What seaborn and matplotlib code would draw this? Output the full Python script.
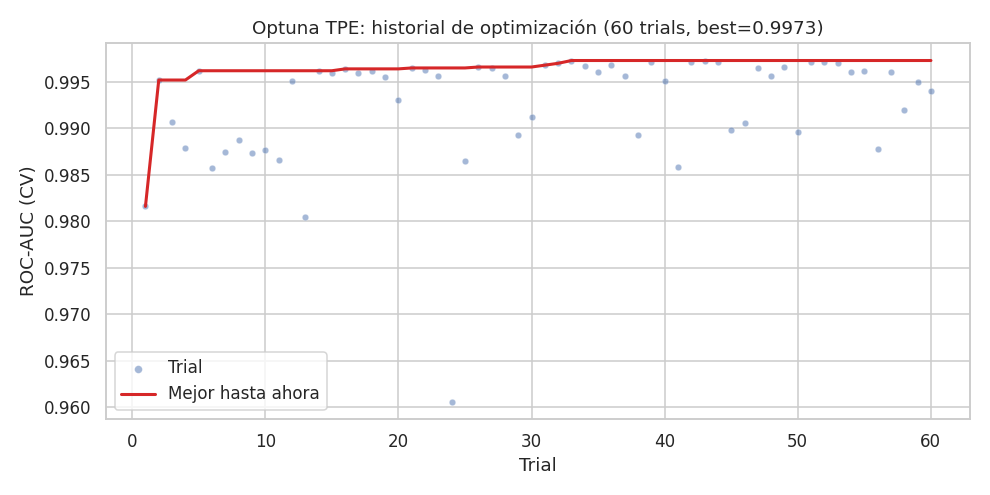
import matplotlib
matplotlib.use("Agg")
import matplotlib.pyplot as plt
import numpy as np
import pandas as pd
import seaborn as sns

trials = list(range(1, 61))
auc = [
    0.9816, 0.9952, 0.9907, 0.9879, 0.9962, 0.9857, 0.9875, 0.9887, 0.9874, 0.9877,
    0.9866, 0.9951, 0.9805, 0.9962, 0.9960, 0.9964, 0.9960, 0.9962, 0.9955, 0.9930,
    0.9965, 0.9963, 0.9956, 0.9606, 0.9865, 0.9966, 0.9965, 0.9956, 0.9893, 0.9912,
    0.9968, 0.9970, 0.9973, 0.9967, 0.9961, 0.9968, 0.9956, 0.9893, 0.9971, 0.9951,
    0.9858, 0.9971, 0.9972, 0.9971, 0.9898, 0.9906, 0.9965, 0.9956, 0.9966, 0.9896,
    0.9971, 0.9971, 0.9970, 0.9961, 0.9962, 0.9878, 0.9961, 0.9920, 0.9950, 0.9940,
]

df = pd.DataFrame({"trial": trials, "auc": auc})
df["best"] = np.maximum.accumulate(df["auc"].values)

sns.set_theme(style="whitegrid")

fig, ax = plt.subplots(figsize=(9, 4.5), dpi=110)
sns.scatterplot(data=df, x="trial", y="auc", s=18, alpha=0.5, color="#4c72b0",
                label="Trial", ax=ax)
sns.lineplot(data=df, x="trial", y="best", color="#d62728", linewidth=2,
             label="Mejor hasta ahora", ax=ax)

ax.set_title(f"Optuna TPE: historial de optimización (60 trials, best={df['best'].max():.4f})")
ax.set_xlabel("Trial")
ax.set_ylabel("ROC-AUC (CV)")
ax.legend(loc="lower left", markerscale=1.2)
plt.tight_layout()
plt.savefig("out.png")
